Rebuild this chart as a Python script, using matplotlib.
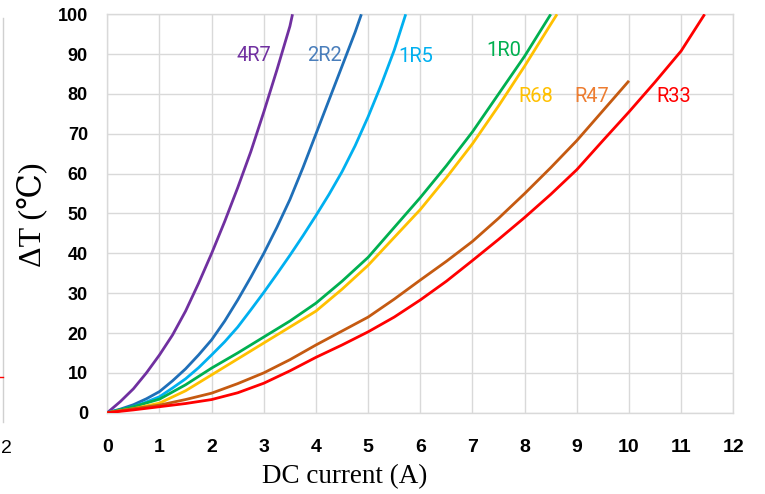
import matplotlib
matplotlib.use("Agg")
import matplotlib.pyplot as plt
from matplotlib.lines import Line2D

# ---- data ----
names = ["4R7", "2R2", "1R5", "1R0", "R68", "R47", "R33"]

x_4r7 = [0, 0.25, 0.5, 0.75, 1, 1.25, 1.5, 1.75, 2, 2.25, 2.5, 2.75, 3, 3.25, 3.5, 3.55]
y_4r7 = [0, 2.8, 6, 10, 14.5, 19.5, 25.5, 32.5, 40, 48, 56.5, 65.5, 75.5, 86, 97, 100]

x_2r2 = [0, 0.25, 0.5, 0.75, 1, 1.25, 1.5, 1.75, 2, 2.25, 2.5, 2.75, 3, 3.25, 3.5, 3.75, 4, 4.25, 4.5, 4.75, 4.87]
y_2r2 = [0, 0.9, 2, 3.5, 5.3, 8, 11, 14.5, 18.3, 23, 28.3, 34, 40, 46.5, 53.5, 61.5, 70, 78.5, 87, 95.5, 100]

x_1r5 = [0, 0.25, 0.5, 0.75, 1, 1.25, 1.5, 1.75, 2, 2.25, 2.5, 2.75, 3, 3.25, 3.5, 3.75, 4, 4.25, 4.5, 4.75, 5, 5.25, 5.5, 5.72]
y_1r5 = [0, 0.7, 1.5, 2.7, 4, 6.2, 8.5, 11.3, 14.5, 17.8, 21.5, 25.8, 30.2, 34.8, 39.5, 44.4, 49.5, 54.8, 60.5, 67, 74.3, 82.3, 91, 100]

x_1r0 = [0, 0.5, 1, 1.5, 2, 2.5, 3, 3.5, 4, 4.5, 5, 5.5, 6, 6.5, 7, 7.5, 8, 8.5]
y_1r0 = [0, 1.5, 3.4, 7, 11.2, 15, 19, 23, 27.5, 33, 39, 46.5, 54, 62, 70.5, 80, 89.5, 100]

x_r68 = [0, 0.5, 1, 1.5, 2, 2.5, 3, 3.5, 4, 4.5, 5, 5.5, 6, 6.5, 7, 7.5, 8, 8.5, 8.62]
y_r68 = [0, 1, 2.4, 5.5, 9.5, 13.5, 17.5, 21.5, 25.5, 31, 37, 44, 51, 59, 67.5, 77, 87, 97.5, 100]

x_r47 = [0, 0.5, 1, 1.5, 2, 2.5, 3, 3.5, 4, 4.5, 5, 5.5, 6, 6.5, 7, 7.5, 8, 8.5, 9, 9.5, 10]
y_r47 = [0, 1, 1.9, 3.3, 4.9, 7.3, 10, 13.3, 17, 20.5, 24, 28.5, 33.3, 38, 43, 48.8, 55, 61.5, 68.3, 75.8, 83.3]

x_r33 = [0, 0.5, 1, 1.5, 2, 2.5, 3, 3.5, 4, 4.5, 5, 5.5, 6, 6.5, 7, 7.5, 8, 8.5, 9, 9.5, 10, 10.5, 11, 11.45]
y_r33 = [0, 0.7, 1.5, 2.3, 3.3, 5, 7.4, 10.5, 13.9, 17, 20.3, 24, 28.3, 33, 38.2, 43.5, 49, 54.8, 61, 68.3, 75.5, 83, 90.8, 100]

x_ticks = list(range(0, 13))
y_ticks = list(range(0, 101, 10))

# ---- styles ----
line_colors = ["#7030A0", "#1F6FB8", "#00B0F0", "#00B050", "#FFC000", "#C55A11", "#FF0000"]
label_colors = ["#7030A0", "#4A7EBB", "#00B0F0", "#00B050", "#FFC000", "#ED7D31", "#FF0000"]
label_pos = [(2.80, 89.6), (4.17, 89.6), (5.92, 89.3), (7.60, 90.8),
             (8.22, 79.3), (9.28, 79.3), (10.85, 79.3)]

series_x = [x_4r7, x_2r2, x_1r5, x_1r0, x_r68, x_r47, x_r33]
series_y = [y_4r7, y_2r2, y_1r5, y_1r0, y_r68, y_r47, y_r33]

fig = plt.figure(figsize=(7.65, 4.94), dpi=100)
ax = fig.add_axes([0.1403, 0.1646, 0.8183, 0.8065])

for xs, ys, c in zip(series_x, series_y, line_colors):
    ax.plot(xs, ys, color=c, lw=2.0, solid_joinstyle="round", solid_capstyle="butt", zorder=3)

for name, (lx, ly), c in zip(names, label_pos, label_colors):
    ax.text(lx, ly, name, ha="center", va="center", fontsize=14.5,
            family=["Roboto", "DejaVu Sans"], color=c, zorder=4)

ax.set_xlim(0, 12)
ax.set_ylim(0, 100)
ax.set_xticks(x_ticks)
ax.set_yticks(y_ticks)
ax.grid(True, color="#D9D9D9", lw=1.0, zorder=0)
ax.set_axisbelow(True)
for s in ax.spines.values():
    s.set_color("#D9D9D9")
    s.set_linewidth(1.0)

ax.tick_params(axis="both", length=0)
ax.tick_params(axis="y", pad=14)
ax.tick_params(axis="x", pad=19)
for lab in ax.get_yticklabels():
    lab.set_family(["Liberation Sans", "DejaVu Sans"])
    lab.set_fontweight("bold")
    lab.set_fontsize(13)
for lab in ax.get_xticklabels():
    lab.set_family(["Liberation Sans Narrow", "Liberation Sans", "DejaVu Sans"])
    lab.set_fontweight("bold")
    lab.set_fontsize(14)

fig.text(32 / 765, 1 - 215 / 494, "ΔT (℃)", rotation=90, ha="center", va="center",
         fontsize=23, family=["Liberation Serif", "DejaVu Serif"])
fig.text(345 / 765, 1 - 477 / 494, "DC current (A)", ha="center", va="center",
         fontsize=19.5, family=["Liberation Serif", "DejaVu Serif"])

# cropped neighbour-chart remnants at the far left
fig.add_artist(Line2D([2.5 / 765, 2.5 / 765], [1 - 422 / 494, 1 - 18 / 494],
                      transform=fig.transFigure, color="#D0D0D0", lw=1.0))
fig.add_artist(Line2D([0, 2.5 / 765], [1 - 377 / 494, 1 - 377 / 494],
                      transform=fig.transFigure, color="#FF0000", lw=1.0))
fig.text(0.5 / 765, 1 - 448 / 494, "2", ha="left", va="center", fontsize=14,
         family=["Liberation Sans", "DejaVu Sans"])

fig.savefig("out.png", dpi=100, facecolor="white")
